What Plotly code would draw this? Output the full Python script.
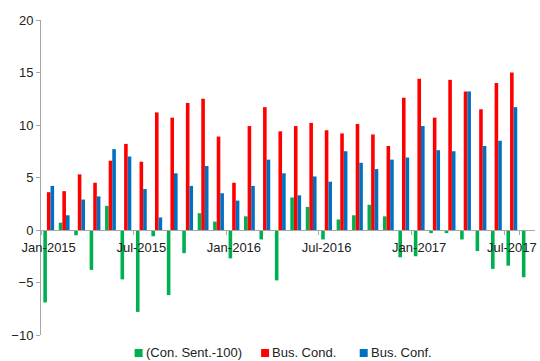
import plotly.graph_objects as go

# Monthly categories, Jan-2015 .. Aug-2017
months = [
    "Jan-2015", "Feb-2015", "Mar-2015", "Apr-2015", "May-2015", "Jun-2015",
    "Jul-2015", "Aug-2015", "Sep-2015", "Oct-2015", "Nov-2015", "Dec-2015",
    "Jan-2016", "Feb-2016", "Mar-2016", "Apr-2016", "May-2016", "Jun-2016",
    "Jul-2016", "Aug-2016", "Sep-2016", "Oct-2016", "Nov-2016", "Dec-2016",
    "Jan-2017", "Feb-2017", "Mar-2017", "Apr-2017", "May-2017", "Jun-2017",
    "Jul-2017", "Aug-2017",
]

con_sent = [
    -6.9, 0.7, -0.5, -3.8, 2.3, -4.7, -7.8, -0.6, -6.2, -2.2, 1.6, 0.8,
    -2.7, 1.3, -0.9, -4.8, 3.1, 2.2, -0.9, 1.0, 1.4, 2.4, 1.3, -2.6,
    -2.5, -0.3, -0.3, -0.9, -2.0, -3.7, -3.4, -4.5,
]
bus_cond = [
    3.6, 3.7, 5.3, 4.5, 6.6, 8.2, 6.5, 11.2, 10.7, 12.1, 12.5, 8.9,
    4.5, 9.9, 11.7, 9.4, 9.9, 10.2, 9.5, 9.2, 10.1, 9.1, 8.0, 12.6,
    14.4, 10.7, 14.3, 13.2, 11.5, 14.0, 15.0, None,
]
bus_conf = [
    4.2, 1.4, 2.9, 3.2, 7.7, 7.0, 3.9, 1.2, 5.4, 4.2, 6.1, 3.5,
    2.8, 4.2, 6.7, 5.4, 3.3, 5.1, 4.6, 7.5, 6.4, 5.8, 6.7, 6.9,
    9.9, 7.6, 7.5, 13.2, 8.0, 8.5, 11.7, None,
]

tick_labels = ["Jan-2015", "Jul-2015", "Jan-2016", "Jul-2016", "Jan-2017", "Jul-2017"]
series_names = ["(Con. Sent.-100)", "Bus. Cond.", "Bus. Conf."]
series_colors = ["#00B050", "#FF0000", "#0070C0"]

FONT = "Liberation Sans, Arial, sans-serif"
AXIS_GREY = "#A6A6A6"
TEXT = "#222222"

fig = go.Figure()
for name, vals, col in zip(series_names, [con_sent, bus_cond, bus_conf], series_colors):
    fig.add_trace(go.Bar(x=months, y=vals, name=name, marker_color=col,
                         marker_line_width=0, showlegend=False))

W, H = 540, 361
ml, mr, mt, mb = 41, 3, 20, 26
pw, ph = W - ml - mr, H - mt - mb


def px_x(x):
    return (x - ml) / pw


def px_y(y):
    return (H - mb - y) / ph


fig.update_layout(
    width=W, height=H,
    margin=dict(l=ml, r=mr, t=mt, b=mb, pad=0),
    paper_bgcolor="white", plot_bgcolor="white",
    font=dict(family=FONT, size=13, color=TEXT),
    barmode="group", bargap=0.3, bargroupgap=0,
    xaxis=dict(
        type="category",
        tickmode="array", tickvals=tick_labels, ticktext=tick_labels,
        tickson="boundaries", tickangle=0, ticklabelstandoff=5,
        ticks="outside", ticklen=4, tickcolor=AXIS_GREY, tickwidth=1,
        showline=True, linecolor=AXIS_GREY, linewidth=1,
        showgrid=False, zeroline=False,
        anchor="free", position=1 / 3,
        tickfont=dict(size=13, color=TEXT),
    ),
    yaxis=dict(
        range=[-10, 20], tickmode="linear", tick0=-10, dtick=5,
        ticks="outside", ticklen=4, tickcolor=AXIS_GREY, tickwidth=1,
        showline=True, linecolor=AXIS_GREY, linewidth=1,
        showgrid=False, zeroline=False,
        tickfont=dict(size=13, color=TEXT),
    ),
)

# Legend row along the bottom edge
legend_items = [(135, 145), (262, 272), (361, 371)]
for (sq_x, tx_x), name, col in zip(legend_items, series_names, series_colors):
    fig.add_shape(type="rect", xref="paper", yref="paper",
                  x0=px_x(sq_x), x1=px_x(sq_x + 8),
                  y0=px_y(349), y1=px_y(357),
                  fillcolor=col, line_width=0)
    fig.add_annotation(xref="paper", yref="paper",
                       x=px_x(tx_x - 1), y=px_y(352.5), xanchor="left", yanchor="middle",
                       text=name, showarrow=False,
                       font=dict(family=FONT, size=13, color=TEXT))

fig.write_html("out.html")
